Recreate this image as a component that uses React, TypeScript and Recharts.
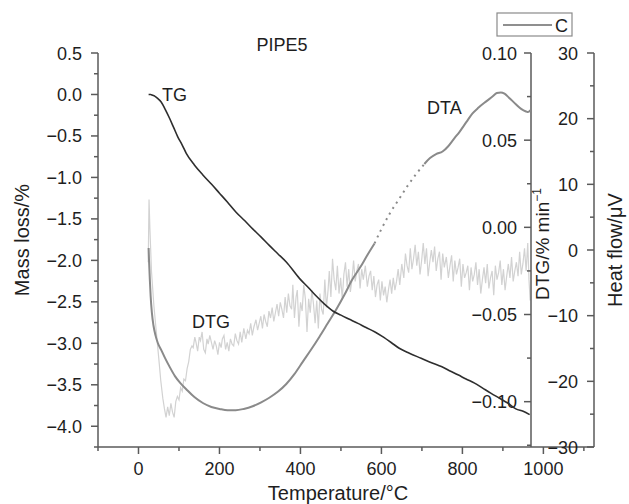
import React from 'react';
import { LineChart, Line, XAxis, YAxis } from 'recharts';

const W = 629;
const H = 504;
const FONT = '"Liberation Sans", Arial, Helvetica, sans-serif';
const AXIS = '#5a5a5a';
const TXT = '#1e1e1e';

// ---- data: [temperature °C, value] ----
const tgPoints: [number, number][] = [
  [25, 0.0], [30, 0.0], [35, -0.01], [40, -0.02], [48, -0.05], [56, -0.09], [66, -0.18], [77, -0.29],
  [87, -0.4], [97, -0.51], [108, -0.61], [118, -0.71], [138, -0.85], [159, -0.97], [180, -1.08], [200, -1.19],
  [220, -1.3], [241, -1.42], [262, -1.52], [282, -1.62], [303, -1.72], [323, -1.82], [344, -1.92], [365, -2.02],
  [398, -2.22], [420, -2.33], [439, -2.43], [460, -2.53], [480, -2.61], [500, -2.66], [521, -2.71], [542, -2.76],
  [562, -2.81], [583, -2.86], [603, -2.92], [624, -2.99], [644, -3.06], [669, -3.12], [698, -3.18], [727, -3.24],
  [748, -3.28], [768, -3.33], [789, -3.38], [809, -3.43], [830, -3.48], [850, -3.54], [870, -3.6], [891, -3.66],
  [912, -3.72], [932, -3.79], [950, -3.82], [966, -3.86],
];

const dtaSolidA: [number, number][] = [
  [25, 0.3], [26, -1.5], [28, -4.5], [30, -7.0], [33, -9.5], [37, -11.5], [42, -13.0], [48, -14.2],
  [56, -15.2], [66, -16.5], [77, -17.8], [90, -19.2], [104, -20.3], [118, -21.2], [138, -22.4], [159, -23.3],
  [180, -23.9], [200, -24.2], [220, -24.4], [240, -24.4], [260, -24.2], [282, -23.8], [303, -23.2], [323, -22.5],
  [344, -21.6], [365, -20.4], [385, -18.9], [406, -17.0], [426, -15.2], [447, -13.2], [467, -11.2], [488, -9.1],
  [508, -6.9], [528, -4.5], [548, -2.6], [565, -0.8], [583, 1.0],
];
const dtaDotted: [number, number][] = [
  [583, 1.0], [600, 3.2], [620, 5.5], [644, 7.8], [665, 9.8], [685, 11.5], [706, 13.1],
];
const dtaSolidB: [number, number][] = [
  [706, 13.1], [720, 14.0], [735, 14.6], [751, 15.0], [765, 15.8], [780, 17.0], [793, 18.0], [810, 19.5],
  [825, 20.8], [840, 21.7], [858, 22.6], [875, 23.4], [885, 23.9], [895, 24.0], [904, 23.8], [915, 23.2],
  [932, 22.2], [945, 21.5], [957, 21.1], [962, 21.0], [968, 21.3],
];

const dtgPoints: [number, number][] = [
  [24, -0.02], [26, 0.016], [28, 0.0], [32, -0.025], [38, -0.045], [44, -0.06], [50, -0.075], [55, -0.088],
  [60, -0.098], [64, -0.104], [68, -0.109], [72, -0.103], [76, -0.108], [80, -0.101], [84, -0.106], [88, -0.109],
  [92, -0.1], [96, -0.097], [100, -0.099], [104, -0.092], [108, -0.094], [112, -0.087], [116, -0.088], [120, -0.081],
  [124, -0.077], [128, -0.07], [132, -0.068],
  [135, -0.069], [139, -0.063], [142, -0.066], [146, -0.071], [150, -0.063], [153, -0.065], [157, -0.06], [161, -0.07],
  [165, -0.072], [169, -0.064], [172, -0.067], [176, -0.062], [180, -0.066], [184, -0.07], [188, -0.065], [192, -0.068],
  [196, -0.073], [200, -0.066], [204, -0.069], [207, -0.064], [211, -0.062], [215, -0.07], [219, -0.066], [223, -0.071],
  [227, -0.064], [231, -0.067], [235, -0.068], [239, -0.061], [243, -0.065], [247, -0.067], [251, -0.06], [255, -0.066],
  [260, -0.058],
  [265, -0.064], [269, -0.059], [273, -0.061], [277, -0.055], [281, -0.062], [285, -0.057], [290, -0.053], [294, -0.059],
  [298, -0.055], [302, -0.051], [306, -0.058], [310, -0.05], [314, -0.054], [318, -0.057], [322, -0.048], [326, -0.052],
  [330, -0.046], [334, -0.054], [338, -0.049], [342, -0.044], [346, -0.051], [350, -0.043], [354, -0.047], [358, -0.052],
  [362, -0.04], [366, -0.049], [370, -0.038], [374, -0.045], [378, -0.047], [381, -0.033],
  [385, -0.052], [389, -0.04], [392, -0.036], [396, -0.057], [400, -0.043], [404, -0.048], [408, -0.033], [412, -0.041],
  [416, -0.06], [420, -0.041], [424, -0.049], [428, -0.036], [432, -0.044], [436, -0.055], [440, -0.042], [444, -0.058],
  [448, -0.038], [452, -0.047], [456, -0.05], [460, -0.03], [464, -0.046], [468, -0.036], [471, -0.025],
  [475, -0.04], [479, -0.018], [483, -0.03], [487, -0.036], [491, -0.022], [495, -0.038], [499, -0.029], [503, -0.041],
  [507, -0.027], [511, -0.02], [515, -0.034], [519, -0.024], [523, -0.037], [527, -0.03], [531, -0.019], [535, -0.031],
  [539, -0.025], [543, -0.021], [547, -0.035], [551, -0.024], [555, -0.03], [560, -0.022],
  [565, -0.034], [569, -0.028], [573, -0.025], [577, -0.036], [581, -0.028], [585, -0.04], [589, -0.033], [593, -0.03],
  [597, -0.042], [601, -0.031], [605, -0.039], [609, -0.034], [613, -0.043], [617, -0.036], [621, -0.03], [625, -0.038],
  [629, -0.029], [633, -0.036], [637, -0.031], [641, -0.024], [645, -0.033], [650, -0.021],
  [655, -0.029], [659, -0.015], [663, -0.022], [667, -0.026], [671, -0.012], [675, -0.024], [679, -0.018], [683, -0.01],
  [687, -0.022], [691, -0.014], [695, -0.027], [699, -0.019], [703, -0.009], [707, -0.021], [711, -0.012], [715, -0.028],
  [719, -0.02], [723, -0.013], [727, -0.02], [731, -0.011], [735, -0.025], [739, -0.018], [743, -0.014], [747, -0.03],
  [751, -0.015], [755, -0.023], [760, -0.017],
  [765, -0.029], [769, -0.022], [773, -0.016], [777, -0.031], [781, -0.019], [785, -0.027], [789, -0.023], [793, -0.018],
  [797, -0.034], [801, -0.021], [805, -0.029], [809, -0.026], [813, -0.022], [817, -0.036], [821, -0.023], [825, -0.031],
  [829, -0.027], [833, -0.02], [837, -0.033], [841, -0.024], [845, -0.038], [849, -0.03], [853, -0.023], [857, -0.032],
  [861, -0.021], [865, -0.035], [869, -0.029], [873, -0.025], [877, -0.039], [881, -0.022], [885, -0.03], [889, -0.026],
  [893, -0.019], [897, -0.033], [901, -0.024], [905, -0.036], [909, -0.028], [913, -0.021], [917, -0.029], [921, -0.017],
  [925, -0.031], [929, -0.025], [933, -0.02], [937, -0.028], [941, -0.014], [945, -0.027], [949, -0.021], [953, -0.012],
  [957, -0.025], [961, -0.009], [964, -0.03], [967, -0.042],
];

// ---- ticks ----
const xMajor = [0, 200, 400, 600, 800, 1000];
const xTicks = [-100, 0, 100, 200, 300, 400, 500, 600, 700, 800, 900, 1000, 1100];
const tgMajor = [0.5, 0, -0.5, -1, -1.5, -2, -2.5, -3, -3.5, -4];
const tgTicks = [0.5, 0.25, 0, -0.25, -0.5, -0.75, -1, -1.25, -1.5, -1.75, -2, -2.25, -2.5, -2.75, -3, -3.25, -3.5, -3.75, -4, -4.25];
const dtgMajor = [0.1, 0.05, 0, -0.05, -0.1];
const dtgTicks = [0.1, 0.075, 0.05, 0.025, 0, -0.025, -0.05, -0.075, -0.1, -0.125];
const hfMajor = [30, 20, 10, 0, -10, -20, -30];
const hfTicks = [30, 25, 20, 15, 10, 5, 0, -5, -10, -15, -20, -25, -30];

const toRows = (pts: [number, number][]) => pts.map(([t, v]) => ({ t, v }));

const minus = (s: string) => s.replace('-', '\u2212');
const isIn = (arr: number[], v: number) => arr.some((m) => Math.abs(m - v) < 1e-9);

const makeYTick = (major: number[], gap: number, fmt: (v: number) => string) => (props: any) => {
  const { x, y, payload } = props;
  const v = payload.value;
  const maj = isIn(major, v);
  const len = maj ? 7 : 4;
  return (
    <g>
      <line x1={x - len} y1={y} x2={x} y2={y} stroke={AXIS} strokeWidth={1.5} />
      {maj && (
        <text x={x - gap} y={y} dy={6.5} textAnchor="end" fontSize={18} fill={TXT} fontFamily={FONT}>
          {fmt(v)}
        </text>
      )}
    </g>
  );
};

const XTick = (props: any) => {
  const { x, y, payload } = props;
  const v = payload.value;
  const maj = isIn(xMajor, v);
  const len = maj ? 7 : 4;
  return (
    <g>
      <line x1={x} y1={y} x2={x} y2={y + len} stroke={AXIS} strokeWidth={1.5} />
      {maj && (
        <text x={x} y={y + 28} textAnchor="middle" fontSize={18} fill={TXT} fontFamily={FONT}>
          {String(v)}
        </text>
      )}
    </g>
  );
};

const TgTick = makeYTick(tgMajor, 16, (v) => minus(v.toFixed(1)));
const DtgTick = makeYTick(dtgMajor, 14, (v) => minus(v.toFixed(2)));
const HfTick = makeYTick(hfMajor, 16, (v) => minus(String(v)));

const axisLine = { stroke: AXIS, strokeWidth: 1.5 };

export default function App() {
  return (
    <div style={{ position: 'absolute', left: 0, top: 0, width: W, height: H, background: '#fff', overflow: 'hidden' }}>
      {/* layer 1: DTG curve with its own axis, plot ends at 968 °C */}
      <div style={{ position: 'absolute', left: 0, top: 0 }}>
        <LineChart width={W} height={H} margin={{ top: 53, right: 38, bottom: 57, left: 98 }}>
          <XAxis xAxisId="a" dataKey="t" type="number" domain={[-100, 969]} allowDataOverflow hide />
          <YAxis
            yAxisId="dtg"
            orientation="right"
            width={60}
            type="number"
            domain={[-0.126, 0.1]}
            allowDataOverflow
            ticks={dtgTicks}
            interval={0}
            tickSize={0}
            tickMargin={0}
            tickLine={false}
            axisLine={axisLine}
            tick={DtgTick}
          />
          <Line
            xAxisId="a"
            yAxisId="dtg"
            data={toRows(dtgPoints)}
            dataKey="v"
            type="linear"
            stroke="#d2d2d2"
            strokeWidth={1.2}
            dot={false}
            isAnimationActive={false}
          />
        </LineChart>
      </div>
      {/* layer 2: TG + DTA, temperature axis, mass and heat flow axes */}
      <div style={{ position: 'absolute', left: 0, top: 0 }}>
        <LineChart width={W} height={H} margin={{ top: 53, right: 15, bottom: 27, left: 38 }}>
          <XAxis
            dataKey="t"
            type="number"
            domain={[-100, 1125]}
            allowDataOverflow
            ticks={xTicks}
            interval={0}
            height={30}
            tickSize={0}
            tickMargin={0}
            tickLine={false}
            axisLine={axisLine}
            tick={XTick}
          />
          <YAxis
            yAxisId="tg"
            orientation="left"
            width={60}
            type="number"
            domain={[-4.25, 0.5]}
            allowDataOverflow
            ticks={tgTicks}
            interval={0}
            tickSize={0}
            tickMargin={0}
            tickLine={false}
            axisLine={axisLine}
            tick={TgTick}
          />
          <YAxis
            yAxisId="hf"
            orientation="right"
            width={20}
            type="number"
            domain={[-30, 30]}
            allowDataOverflow
            ticks={hfTicks}
            interval={0}
            tickSize={0}
            tickMargin={0}
            tickLine={false}
            axisLine={axisLine}
            tick={HfTick}
          />
          <Line yAxisId="hf" data={toRows(dtaSolidA)} dataKey="v" type="monotone" stroke="#8a8a8a" strokeWidth={2} dot={false} isAnimationActive={false} />
          <Line yAxisId="hf" data={toRows(dtaDotted)} dataKey="v" type="monotone" stroke="#8a8a8a" strokeWidth={2} strokeDasharray="2 4.5" dot={false} isAnimationActive={false} />
          <Line yAxisId="hf" data={toRows(dtaSolidB)} dataKey="v" type="monotone" stroke="#8a8a8a" strokeWidth={2} dot={false} isAnimationActive={false} />
          <Line yAxisId="tg" data={toRows(tgPoints)} dataKey="v" type="monotone" stroke="#2e2e2e" strokeWidth={1.6} dot={false} isAnimationActive={false} />
        </LineChart>
      </div>
      {/* layer 3: texts */}
      <svg width={W} height={H} style={{ position: 'absolute', left: 0, top: 0, pointerEvents: 'none' }} fontFamily={FONT}>
        <text x={282} y={51} textAnchor="middle" fontSize={18} fill={TXT}>PIPE5</text>
        <text x={162} y={101} fontSize={18} fill={TXT}>TG</text>
        <text x={427} y={114} fontSize={18} fill={TXT}>DTA</text>
        <text x={192} y={328} fontSize={18} fill={TXT}>DTG</text>
        <text x={338} y={500} textAnchor="middle" fontSize={20} fill={TXT}>Temperature/°C</text>
        <text transform="translate(29,240) rotate(-90)" textAnchor="middle" fontSize={20} fill={TXT}>Mass loss/%</text>
        <text transform="translate(549,244) rotate(-90)" textAnchor="middle" fontSize={19} fill={TXT}>
          DTG/% min<tspan fontSize={12} dy={-8}>−1</tspan>
        </text>
        <text transform="translate(622,250) rotate(-90)" textAnchor="middle" fontSize={20} fill={TXT}>Heat flow/μV</text>
        <rect x={497} y={13} width={75} height={23} fill="#fff" stroke="#8a8a8a" strokeWidth={1.2} />
        <line x1={503} y1={25} x2={552} y2={25} stroke="#6a6a6a" strokeWidth={1.6} />
        <text x={555} y={32} fontSize={18} fill={TXT}>C</text>
      </svg>
    </div>
  );
}
